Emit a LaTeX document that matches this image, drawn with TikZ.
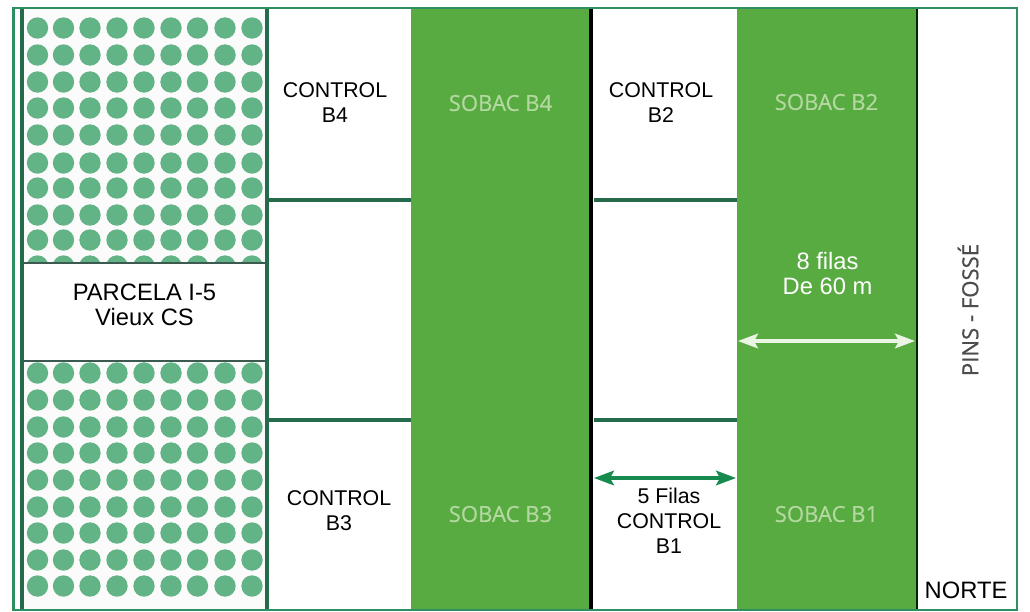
\documentclass[tikz,border=0pt]{standalone}
\usepackage{fontspec}
\setmainfont{Liberation Sans}
\newfontfamily\sobacfont[FakeBold=0.4]{Open Sans}
\newfontfamily\pinsfont[FakeBold=0.8]{Open Sans}
\usetikzlibrary{arrows.meta}
\definecolor{bandgreen}{HTML}{58AB41}
\definecolor{framegreen}{HTML}{2F8F62}
\definecolor{dotgreen}{HTML}{62B487}
\definecolor{sobactext}{HTML}{B4D9A0}
\definecolor{darkline}{HTML}{3C5A50}
\definecolor{arrowgreen}{HTML}{178A50}
\definecolor{arrowwhite}{HTML}{EAF5E4}
\tikzset{
  band/.style={fill=bandgreen,draw=none},
  treedot/.style={fill=dotgreen,draw=none},
  frameline/.style={draw=framegreen,line width=2pt},
  rowline/.style={draw=framegreen!75!black,line width=2.4pt},
  plotline/.style={draw=darkline,line width=1.8pt},
  blackline/.style={draw=black,line width=3pt},
  lbl/.style={align=center,font=\fontsize{16}{18.6}\selectfont,text=black,inner sep=0pt},
  lblbig/.style={align=center,font=\fontsize{17.8}{18.6}\selectfont,text=black,inner sep=0pt},
  sobac/.style={font=\sobacfont\fontsize{16.6}{18}\selectfont,text=sobactext,inner sep=0pt},
  widtharrow/.style={{Stealth[length=15pt,width=11pt,inset=3pt]}-{Stealth[length=15pt,width=11pt,inset=3pt]},line width=2.4pt},
}
\begin{document}
\begin{tikzpicture}[x=0.75pt,y=-0.75pt]
\useasboundingbox (0,0) rectangle (1030,611);
\fill[white] (0,0) rectangle (1030,611);
% trees
\fill[gray!3] (22,9) rectangle (267,609);
\fill[white] (22,263) rectangle (267,361);
\foreach \cx in {37.5,63.5,90,117,144,171,197.5,225,252}{
  \foreach \cy in {28,55,82,108,135,163,188,215,240}
    \fill[treedot] (\cx,\cy) circle (10.7);
  \foreach \cy in {373,400,427,453,480,507,533,560,586}
    \fill[treedot] (\cx,\cy) circle (10.7);
}
% partial row above plot line
\begin{scope}
  \clip (22,250) rectangle (267,262);
  \foreach \cx in {37.5,63.5,90,117,144,171,197.5,225,252}
    \fill[treedot] (\cx,266) circle (10.7);
\end{scope}
% bands
\fill[band] (411,8) rectangle (590,610);
\fill[band] (737,8) rectangle (917,610);
% lines
\draw[rowline] (267,200) -- (411,200);
\draw[rowline] (267,420) -- (411,420);
\draw[rowline] (594,200) -- (737,200);
\draw[rowline] (594,420) -- (737,420);
\draw[plotline] (22,263) -- (267,263);
\draw[plotline] (22,361) -- (267,361);
\draw[blackline] (590.5,8) -- (590.5,610);
\draw[draw=black!85!green,line width=2.2pt] (917,8) -- (917,610);
\draw[rowline] (267,8) -- (267,610);
\draw[rowline] (22,8) -- (22,610);
\draw[frameline] (13.5,8) rectangle (1017,610);
% labels
\node[lblbig] (pa) at (144.5,305) {PARCELA I-5\\Vieux CS};
\node[lbl] (c4) at (335,102.5) {CONTROL\\B4};
\node[lbl] (c2) at (661,102.5) {CONTROL\\B2};
\node[lbl] (c3) at (339,510.5) {CONTROL\\B3};
\node[lbl] (c1) at (669,521) {5 Filas\\CONTROL\\B1};
\node[lblbig,text=white] (f8) at (827.5,273.5) {8 filas\\De 60 m};
\node[lblbig] (no) at (966,590) {NORTE};
\node[sobac] (s4) at (500.5,103) {SOBAC B4};
\node[sobac] (s2) at (826.5,102) {SOBAC B2};
\node[sobac] (s3) at (500.5,514) {SOBAC B3};
\node[sobac] (s1) at (826.5,514) {SOBAC B1};
\node[font=\pinsfont\fontsize{16.6}{18}\selectfont,text=black!70,rotate=90,inner sep=0pt] (pf) at (968,310) {PINS - FOSSÉ};
% arrows
\coordinate (a1) at (594,478);
\coordinate (a2) at (736,478);
\coordinate (b1) at (738,341);
\coordinate (b2) at (915,341);
\draw[widtharrow,arrowgreen] (a1) -- (a2);
\draw[widtharrow,arrowwhite] (b1) -- (b2);
\end{tikzpicture}
\end{document}
